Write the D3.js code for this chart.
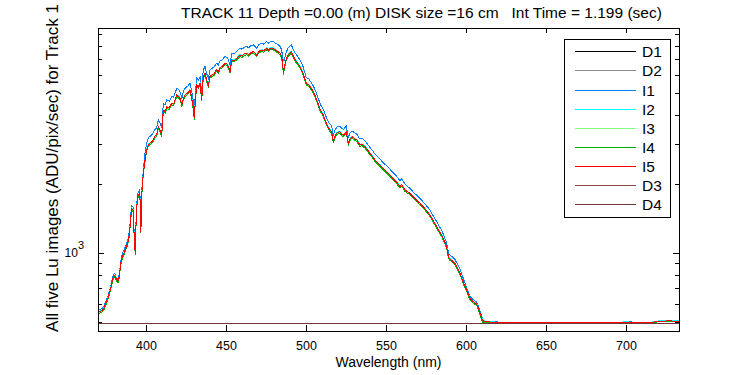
<!DOCTYPE html>
<html>
<head>
<meta charset="utf-8">
<script src="https://cdn.jsdelivr.net/npm/d3@7"></script>
<style>
  html, body { margin: 0; padding: 0; background: #fff; }
  svg text { font-family: "Liberation Sans", Arial, sans-serif; fill: #000; }
</style>
</head>
<body>
<svg id="chart" width="750" height="375"></svg>
<script>
// wavelength grid (nm) shared by the five Lu image traces
const wavelengths = [
  370.5, 372, 373.5, 375, 376.5, 378, 379.5, 380.5, 381.5, 382.5,
  383.3, 384.2, 385.2, 386.3, 387.3, 388.3, 389.2, 390, 391, 392,
  392.7, 393.3, 394, 394.8, 395.8, 396.4, 396.8, 397.3, 398.3, 399.4,
  400.4, 401.5, 402.5, 404, 405.5, 406.7, 407.7, 408.7, 409.8, 410.8,
  412, 413, 414.5, 416, 417.3, 418.3, 419.3, 420.5, 421.5, 422.4,
  423.4, 424.5, 426, 427.5, 428.5, 429.3, 430.2, 430.8, 431.7, 432.7,
  433.8, 434.8, 435.8, 436.9, 438, 439, 440, 441.2, 442.5, 444,
  445.2, 446.3, 447.5, 449.4, 450.6, 451.6, 452.5, 453.6, 455, 456.7,
  458.7, 460, 461.5, 463, 464.2, 465.5, 467.1, 468.2, 469.2, 470.5,
  472.3, 473.5, 475.4, 476.5, 477.8, 479.6, 481, 482.7, 483.8, 484.8,
  485.4, 485.9, 486.5, 487.5, 488.6, 489.8, 490.8, 492, 493.3, 494.7,
  496.2, 497.8, 498.8, 500.2, 501.8, 503.2, 504.6, 506, 507.5, 509,
  510.8, 512, 513.2, 514.5, 516, 517.1, 518, 519.2, 521.2, 522.5,
  523.5, 525.2, 526.5, 527.6, 528.8, 530.5, 531.8, 533.7, 535, 536.9,
  538.5, 540, 541.8, 543.1, 545, 546.3, 548.3, 550.4, 552.5, 554.6,
  556.7, 558.7, 559.8, 561.9, 565, 568, 571.2, 574.4, 577.5, 579.6,
  581.7, 583.7, 584.8, 586.9, 587.9, 588.8, 589.5, 591, 593.1, 595.2,
  596.3, 598.3, 600.4, 602.5, 604.6, 606.7, 607.7, 608.8, 609.8, 610.6,
  612, 616, 622, 630, 640, 650, 660, 670, 680, 690,
  700, 710, 716, 720, 726, 733
];

const seriesI1 = [
  563, 569, 581, 617, 658, 719, 801, 816, 780, 767,
  806, 918, 991, 1030, 1079, 1118, 1185, 1339, 1612, 1586,
  1174, 1027, 1586, 1813, 1875, 1751, 1277, 1844, 2297, 2729,
  3017, 3189, 3227, 3296, 3456, 3520, 3809, 3692, 3504, 4494,
  4441, 4655, 4601, 4815, 4794, 5029, 5243, 5157, 5029, 4729,
  5083, 5243, 5350, 5511, 5136, 4740, 4141, 4922, 5799, 5671,
  5896, 4986, 6313, 6516, 6046, 5799, 6313, 6399, 6474, 6741,
  6634, 6902, 6966, 7212, 7148, 6955, 6623, 7458, 7404, 7576,
  7832, 7758, 7918, 7972, 7865, 8025, 8100, 7972, 7832, 8132,
  8239, 8175, 8378, 8239, 8400, 8378, 8239, 8100, 7972, 7699,
  7169, 6900, 6955, 7458, 7811, 7972, 8100, 7758, 7458, 7223,
  6966, 6634, 6302, 5830, 5745, 5565, 5364, 5088, 4770, 4452,
  4251, 4028, 3837, 3689, 3588, 3248, 3424, 3540, 3588, 3487,
  3472, 3588, 3197, 3350, 3413, 3339, 3300, 3141, 3169, 3087,
  2989, 2886, 2788, 2700, 2618, 2566, 2480, 2401, 2321, 2237,
  2162, 2068, 2109, 1997, 1911, 1817, 1733, 1638, 1538, 1449,
  1368, 1292, 1258, 1154, 1108, 1024, 986, 967, 937, 879,
  848, 775, 703, 647, 625, 610, 587, 556, 528, 509,
  503, 501, 499, 498, 499, 498, 499, 498, 497, 498,
  500, 499, 499, 505, 507, 506
];

const seriesI2 = [
  554, 560, 572, 607, 647, 707, 787, 802, 767, 754,
  792, 903, 965, 1003, 1051, 1088, 1153, 1304, 1570, 1545,
  1143, 1000, 1545, 1765, 1825, 1705, 1244, 1795, 2237, 2558,
  2828, 2989, 3025, 3089, 3240, 3300, 3571, 3460, 3285, 4213,
  4162, 4363, 4313, 4514, 4493, 4714, 4915, 4834, 4714, 4433,
  4764, 4915, 5015, 5165, 4814, 4443, 3882, 4614, 5436, 5316,
  5527, 4674, 5918, 6108, 5667, 5436, 5918, 5998, 6068, 6319,
  6219, 6469, 6530, 6760, 6700, 6520, 6209, 6991, 6941, 7101,
  7342, 7272, 7422, 7472, 7372, 7523, 7593, 7472, 7342, 7623,
  7723, 7663, 7853, 7723, 7874, 7853, 7723, 7593, 7472, 7217,
  6720, 6108, 6520, 6991, 7322, 7472, 7593, 7272, 6991, 6770,
  6530, 6219, 5908, 5517, 5436, 5266, 5075, 4814, 4514, 4213,
  4022, 3811, 3631, 3490, 3395, 3073, 3240, 3350, 3395, 3300,
  3285, 3395, 3025, 3169, 3230, 3159, 3122, 2972, 2999, 2921,
  2828, 2731, 2638, 2555, 2477, 2428, 2347, 2272, 2197, 2116,
  2046, 1957, 1996, 1890, 1825, 1735, 1655, 1565, 1469, 1384,
  1307, 1234, 1202, 1113, 1068, 988, 951, 933, 904, 848,
  817, 747, 691, 636, 615, 600, 577, 547, 520, 508,
  503, 500, 499, 497, 498, 497, 499, 497, 496, 498,
  500, 498, 499, 505, 506, 506
];

const seriesI3 = [
  548, 554, 566, 601, 640, 700, 780, 794, 760, 747,
  784, 894, 955, 993, 1041, 1077, 1142, 1291, 1554, 1529,
  1132, 990, 1529, 1748, 1807, 1688, 1231, 1777, 2214, 2532,
  2800, 2959, 2995, 3058, 3207, 3267, 3535, 3426, 3252, 4171,
  4121, 4320, 4270, 4469, 4449, 4667, 4866, 4786, 4667, 4389,
  4717, 4866, 4965, 5114, 4766, 4399, 3843, 4568, 5382, 5263,
  5471, 4627, 5859, 6047, 5610, 5382, 5859, 5938, 6008, 6256,
  6157, 6405, 6464, 6693, 6633, 6455, 6147, 6921, 6872, 7030,
  7269, 7199, 7348, 7398, 7299, 7448, 7517, 7398, 7269, 7547,
  7646, 7587, 7775, 7646, 7795, 7775, 7646, 7517, 7398, 7145,
  6653, 6047, 6455, 6921, 7249, 7398, 7517, 7199, 6921, 6703,
  6464, 6157, 5849, 5462, 5382, 5213, 5025, 4766, 4469, 4171,
  3982, 3773, 3595, 3456, 3361, 3043, 3207, 3317, 3361, 3267,
  3252, 3361, 2995, 3138, 3197, 3128, 3091, 2942, 2969, 2892,
  2800, 2704, 2612, 2529, 2453, 2404, 2324, 2249, 2175, 2095,
  2026, 1937, 1976, 1871, 1807, 1718, 1638, 1549, 1455, 1370,
  1294, 1221, 1190, 1102, 1058, 978, 941, 923, 895, 839,
  809, 740, 684, 630, 609, 594, 571, 541, 514, 502,
  498, 497, 498, 497, 496, 498, 497, 498, 497, 497,
  496, 497, 498, 501, 504, 503
];

const seriesI4 = [
  544, 550, 561, 596, 635, 694, 773, 788, 754, 741,
  778, 887, 948, 985, 1032, 1069, 1133, 1281, 1542, 1517,
  1123, 982, 1517, 1734, 1793, 1675, 1221, 1763, 2197, 2512,
  2778, 2935, 2971, 3034, 3182, 3241, 3507, 3398, 3226, 4137,
  4088, 4285, 4236, 4433, 4413, 4630, 4827, 4748, 4630, 4354,
  4679, 4827, 4925, 5073, 4728, 4364, 3812, 4531, 5339, 5221,
  5427, 4590, 5812, 5999, 5565, 5339, 5812, 5890, 5959, 6206,
  6107, 6353, 6412, 6639, 6580, 6403, 6097, 6865, 6816, 6974,
  7210, 7141, 7289, 7338, 7240, 7388, 7456, 7338, 7210, 7486,
  7585, 7525, 7713, 7585, 7732, 7713, 7585, 7456, 7338, 7087,
  6600, 5999, 6403, 6865, 7191, 7338, 7456, 7141, 6865, 6649,
  6412, 6107, 5802, 5418, 5339, 5171, 4984, 4728, 4433, 4137,
  3950, 3743, 3566, 3428, 3334, 3018, 3182, 3290, 3334, 3241,
  3226, 3334, 2971, 3113, 3172, 3103, 3066, 2919, 2945, 2868,
  2778, 2682, 2591, 2509, 2433, 2385, 2305, 2231, 2157, 2078,
  2009, 1922, 1960, 1856, 1793, 1704, 1625, 1537, 1443, 1359,
  1283, 1212, 1180, 1093, 1049, 970, 934, 916, 887, 832,
  803, 734, 679, 624, 604, 589, 566, 537, 510, 498,
  496, 497, 496, 497, 498, 496, 497, 496, 495, 496,
  497, 496, 497, 500, 503, 502
];

const seriesI5 = [
  552, 558, 570, 605, 645, 705, 785, 800, 765, 752,
  790, 900, 962, 1000, 1048, 1085, 1150, 1300, 1565, 1540,
  1140, 997, 1540, 1760, 1820, 1700, 1240, 1790, 2230, 2550,
  2820, 2980, 3016, 3080, 3230, 3290, 3560, 3450, 3275, 4200,
  4150, 4350, 4300, 4500, 4480, 4700, 4900, 4820, 4700, 4420,
  4750, 4900, 5000, 5150, 4800, 4430, 3870, 4600, 5420, 5300,
  5510, 4660, 5900, 6090, 5650, 5420, 5900, 5980, 6050, 6300,
  6200, 6450, 6510, 6740, 6680, 6500, 6190, 6970, 6920, 7080,
  7320, 7250, 7400, 7450, 7350, 7500, 7570, 7450, 7320, 7600,
  7700, 7640, 7830, 7700, 7850, 7830, 7700, 7570, 7450, 7195,
  6700, 6090, 6500, 6970, 7300, 7450, 7570, 7250, 6970, 6750,
  6510, 6200, 5890, 5500, 5420, 5250, 5060, 4800, 4500, 4200,
  4010, 3800, 3620, 3480, 3385, 3064, 3230, 3340, 3385, 3290,
  3275, 3385, 3016, 3160, 3220, 3150, 3113, 2963, 2990, 2912,
  2820, 2723, 2630, 2547, 2470, 2421, 2340, 2265, 2190, 2110,
  2040, 1951, 1990, 1884, 1820, 1730, 1650, 1560, 1465, 1380,
  1303, 1230, 1198, 1110, 1065, 985, 948, 930, 901, 845,
  815, 745, 689, 634, 613, 598, 575, 545, 518, 506,
  501, 499, 497, 496, 497, 496, 497, 496, 495, 496,
  497, 496, 497, 503, 505, 504
];

// dark frames are flat, sampled on a coarser grid
const darkWavelengths = [370.5, 395, 420, 445, 470, 495, 520, 545, 570, 595, 620, 645, 670, 695, 720, 733];
const seriesD1 = [490.3, 490.4, 490.3, 490.4, 490.3, 490.3, 490.4, 490.3, 490.4, 490.3, 490.4, 490.3, 490.3, 490.4, 490.3, 490.4];
const seriesD2 = [490.4, 490.3, 490.4, 490.3, 490.4, 490.4, 490.3, 490.4, 490.3, 490.4, 490.3, 490.4, 490.4, 490.3, 490.4, 490.3];
const seriesD3 = [490.3, 490.3, 490.4, 490.4, 490.3, 490.3, 490.4, 490.4, 490.3, 490.3, 490.4, 490.4, 490.3, 490.3, 490.4, 490.4];
const seriesD4 = [490.4, 490.4, 490.3, 490.3, 490.4, 490.4, 490.3, 490.3, 490.4, 490.4, 490.3, 490.3, 490.4, 490.4, 490.3, 490.3];

const seriesNames = ["D1", "D2", "I1", "I2", "I3", "I4", "I5", "D3", "D4"];
const xTicks = [400, 450, 500, 550, 600, 650, 700];
const yMajorTicks = [1000];
const yMinorTicks = [500, 600, 700, 800, 900, 2000, 3000, 4000, 5000, 6000, 7000, 8000, 9000];

const seriesColors = {
  D1: "#000000", D2: "#8c8c8c", I1: "#0080ff", I2: "#00ffff", I3: "#80ff80",
  I4: "#00b000", I5: "#ff0000", D3: "#8b4848", D4: "#703838"
};

const seriesData = {
  D1: { wl: darkWavelengths, v: seriesD1 },
  D2: { wl: darkWavelengths, v: seriesD2 },
  I1: { wl: wavelengths, v: seriesI1 },
  I2: { wl: wavelengths, v: seriesI2 },
  I3: { wl: wavelengths, v: seriesI3 },
  I4: { wl: wavelengths, v: seriesI4 },
  I5: { wl: wavelengths, v: seriesI5 },
  D3: { wl: darkWavelengths, v: seriesD3 },
  D4: { wl: darkWavelengths, v: seriesD4 }
};

const svg = d3.select("#chart");
const plot = { left: 98, right: 679, top: 28, bottom: 331 };

const x = d3.scaleLinear().domain([370, 733.125]).range([plot.left, plot.right]);
const y = d3.scaleLog().domain([456.4, 9605]).range([plot.bottom, plot.top]);

svg.append("rect").attr("width", 750).attr("height", 375).attr("fill", "#fff");

svg.append("defs").append("clipPath").attr("id", "plot-clip")
  .append("rect")
  .attr("x", plot.left).attr("y", plot.top)
  .attr("width", plot.right - plot.left + 1).attr("height", plot.bottom - plot.top + 1);

const line = d3.line().x((d) => x(d[0])).y((d) => y(d[1]));

const curves = svg.append("g").attr("clip-path", "url(#plot-clip)");
seriesNames.forEach((name) => {
  const s = seriesData[name];
  const n = Math.min(s.wl.length, s.v.length);
  const pts = d3.range(n).map((i) => [s.wl[i], s.v[i]]);
  curves.append("path")
    .datum(pts)
    .attr("d", line)
    .attr("fill", "none")
    .attr("stroke", seriesColors[name])
    .attr("stroke-width", 1)
    .attr("shape-rendering", "crispEdges");
});

// axes: ticks pointing inward on all four sides
function styleAxis(g) {
  g.select(".domain").remove();
  g.selectAll(".tick line").attr("stroke", "#000").attr("shape-rendering", "crispEdges");
  g.selectAll(".tick text").attr("fill", "#000").attr("font-family", '"Liberation Sans", Arial, sans-serif');
}

svg.append("g")
  .attr("transform", `translate(0,${plot.bottom})`)
  .call(d3.axisBottom(x).tickValues(xTicks).tickSizeInner(-6).tickSizeOuter(0).tickPadding(10).tickFormat(d3.format("d")))
  .call(styleAxis)
  .call((g) => g.selectAll(".tick text").attr("font-size", "12.5px"));

svg.append("g")
  .attr("transform", `translate(0,${plot.top})`)
  .call(d3.axisTop(x).tickValues(xTicks).tickSizeInner(-5).tickSizeOuter(0).tickFormat(""))
  .call(styleAxis);

svg.append("g")
  .attr("transform", `translate(${plot.left},0)`)
  .call(d3.axisLeft(y).tickValues(yMinorTicks).tickSizeInner(-4).tickSizeOuter(0).tickFormat(""))
  .call(styleAxis);

svg.append("g")
  .attr("transform", `translate(${plot.left},0)`)
  .call(d3.axisLeft(y).tickValues(yMajorTicks).tickSizeInner(-6).tickSizeOuter(0).tickPadding(14).tickFormat(() => "10"))
  .call(styleAxis)
  .call((g) => g.selectAll(".tick text").attr("font-size", "12px")
    .append("tspan").attr("dy", "-0.75em").attr("font-size", "11px").text("3"));

svg.append("g")
  .attr("transform", `translate(${plot.right},0)`)
  .call(d3.axisRight(y).tickValues(yMinorTicks).tickSizeInner(-4).tickSizeOuter(0).tickFormat(""))
  .call(styleAxis);

svg.append("g")
  .attr("transform", `translate(${plot.right},0)`)
  .call(d3.axisRight(y).tickValues(yMajorTicks).tickSizeInner(-6).tickSizeOuter(0).tickFormat(""))
  .call(styleAxis);

// box
svg.append("rect")
  .attr("x", plot.left + 0.5).attr("y", plot.top + 0.5)
  .attr("width", plot.right - plot.left).attr("height", plot.bottom - plot.top)
  .attr("fill", "none").attr("stroke", "#000").attr("shape-rendering", "crispEdges");

// titles
svg.append("text")
  .attr("x", 181).attr("y", 18)
  .attr("font-size", "15.5px")
  .style("white-space", "pre")
  .text("TRACK 11 Depth =0.00 (m) DISK size =16 cm   Int Time = 1.199 (sec)");

svg.append("text")
  .attr("x", (plot.left + plot.right) / 2).attr("y", 367)
  .attr("text-anchor", "middle")
  .attr("font-size", "14px")
  .text("Wavelength (nm)");

svg.append("text")
  .attr("transform", "translate(57.5,168) rotate(-90)")
  .attr("text-anchor", "middle")
  .attr("font-size", "17px")
  .text("All five Lu images (ADU/pix/sec) for Track 1");

// legend
const legend = svg.append("g").attr("transform", "translate(564.5,39.5)");
legend.append("rect")
  .attr("width", 106).attr("height", 178)
  .attr("fill", "#fff").attr("stroke", "#000").attr("shape-rendering", "crispEdges");

const rows = legend.selectAll("g.entry")
  .data(seriesNames)
  .join("g")
  .attr("class", "entry")
  .attr("transform", (d, i) => `translate(0,${Math.round(12.2 + i * 19.15)})`);

rows.append("line")
  .attr("x1", 10.5).attr("x2", 71.5)
  .attr("stroke", (d) => seriesColors[d])
  .attr("stroke-width", 1)
  .attr("shape-rendering", "crispEdges");

rows.append("text")
  .attr("x", 77.5)
  .attr("dy", "0.36em")
  .attr("font-size", "15.5px")
  .text((d) => d);
</script>
</body>
</html>
